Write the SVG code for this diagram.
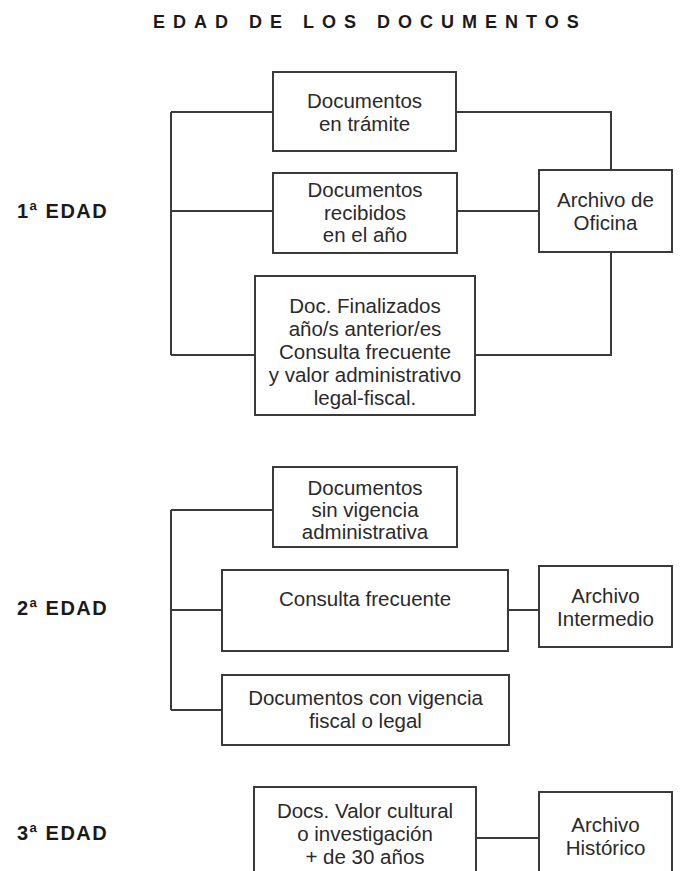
<svg xmlns="http://www.w3.org/2000/svg" width="680" height="871" viewBox="0 0 680 871">
<style>
.box{fill:#fff;stroke:#3a3a3a;stroke-width:2}
.t{font-family:"Liberation Sans",Arial,sans-serif;font-size:20.5px;fill:#2a2a2a;text-anchor:middle}
.lab{font-family:"Liberation Sans",Arial,sans-serif;font-size:20px;font-weight:bold;fill:#1a1a1a;letter-spacing:1.5px}
.title{font-family:"Liberation Sans",Arial,sans-serif;font-size:18px;font-weight:bold;fill:#1a1a1a;letter-spacing:8px}
#connectors path{fill:none;stroke:#3a3a3a;stroke-width:2}
</style>
<rect width="680" height="871" fill="#fff"/>
<text class="title" x="153" y="28">EDAD DE LOS DOCUMENTOS</text>
<text class="lab" x="17" y="218">1ª EDAD</text>
<text class="lab" x="17" y="615">2ª EDAD</text>
<text class="lab" x="17" y="840">3ª EDAD</text>
<g id="connectors">
<path d="M171,112 V355 M171,112 H273 M171,211 H273 M171,355 H255"/>
<path d="M456,112 H611 V170 M457,211 H539 M475,355 H611 V252"/>
<path d="M171,510 V710 M171,510 H273 M171,610 H222 M171,710 H222"/>
<path d="M508,610 H539"/>
<path d="M476,838 H539"/>
</g>
<g id="n1"><rect class="box" x="273" y="72" width="183" height="79"/>
<text class="t" x="364.5" y="108">Documentos</text><text class="t" x="364.5" y="131">en trámite</text></g>
<g id="n2"><rect class="box" x="273" y="173" width="184" height="80"/>
<text class="t" x="365" y="197">Documentos</text><text class="t" x="365" y="219.5">recibidos</text><text class="t" x="365" y="242">en el año</text></g>
<g id="n3"><rect class="box" x="255" y="276" width="220" height="139"/>
<text class="t" x="365" y="313">Doc. Finalizados</text><text class="t" x="365" y="336">año/s anterior/es</text><text class="t" x="365" y="358.5">Consulta frecuente</text><text class="t" x="365" y="381.5">y valor administrativo</text><text class="t" x="365" y="404.5">legal-fiscal.</text></g>
<g id="n4"><rect class="box" x="539" y="170" width="133" height="82"/>
<text class="t" x="605.5" y="207">Archivo de</text><text class="t" x="605.5" y="229.5">Oficina</text></g>
<g id="n5"><rect class="box" x="273" y="467" width="184" height="80"/>
<text class="t" x="365" y="495">Documentos</text><text class="t" x="365" y="517">sin vigencia</text><text class="t" x="365" y="539">administrativa</text></g>
<g id="n6"><rect class="box" x="222" y="570" width="286" height="81"/>
<text class="t" x="365" y="606">Consulta frecuente</text></g>
<g id="n7"><rect class="box" x="222" y="675" width="287" height="70"/>
<text class="t" x="365.5" y="705">Documentos con vigencia</text><text class="t" x="365.5" y="728">fiscal o legal</text></g>
<g id="n8"><rect class="box" x="539" y="566" width="133" height="81"/>
<text class="t" x="605.5" y="603">Archivo</text><text class="t" x="605.5" y="625.5">Intermedio</text></g>
<g id="n9"><rect class="box" x="254" y="787" width="222" height="100"/>
<text class="t" x="365" y="818">Docs. Valor cultural</text><text class="t" x="365" y="841">o investigación</text><text class="t" x="365" y="863.5">+ de 30 años</text></g>
<g id="n10"><rect class="box" x="539" y="792" width="133" height="95"/>
<text class="t" x="605.5" y="832">Archivo</text><text class="t" x="605.5" y="855">Histórico</text></g>
</svg>
